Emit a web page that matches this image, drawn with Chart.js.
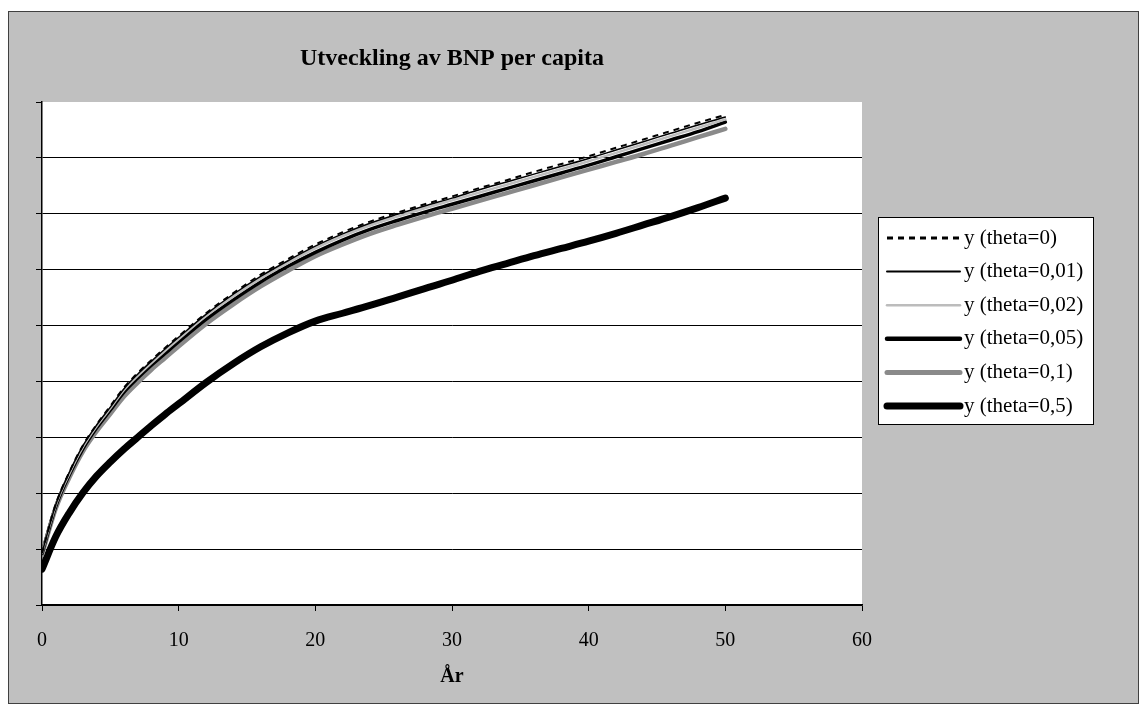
<!DOCTYPE html>
<html lang="sv">
<head>
    <meta charset="UTF-8">
    <title>Utveckling av BNP per capita</title>
    <script src="https://cdn.jsdelivr.net/npm/chart.js@4.4.1/dist/chart.umd.min.js"></script>
    <style>
        body { margin: 0; background: #fff; }
    </style>
</head>
<body>
    <canvas id="bnpChart" width="1147" height="709"></canvas>

    <script>
        // Data (y axis has no labels, 9 gridline units)
        const years = [0, 1, 2, 3, 4, 5, 6, 7, 8, 9, 10, 12, 14, 16, 18, 20, 22, 24, 26, 28, 30, 32, 34, 36, 38, 40, 42, 44, 46, 48, 50];
        const seriesLabels = ['y (theta=0)', 'y (theta=0,01)', 'y (theta=0,02)', 'y (theta=0,05)', 'y (theta=0,1)', 'y (theta=0,5)'];
        const yTheta0   = [0.93, 1.80, 2.38, 2.86, 3.23, 3.56, 3.89, 4.15, 4.38, 4.60, 4.81, 5.22, 5.58, 5.91, 6.19, 6.45, 6.67, 6.86, 7.02, 7.17, 7.31, 7.46, 7.60, 7.75, 7.89, 8.03, 8.18, 8.33, 8.48, 8.63, 8.77];
        const yTheta001 = [0.93, 1.79, 2.37, 2.85, 3.22, 3.54, 3.87, 4.13, 4.36, 4.58, 4.79, 5.20, 5.56, 5.88, 6.16, 6.42, 6.64, 6.83, 6.99, 7.14, 7.28, 7.43, 7.57, 7.71, 7.85, 7.99, 8.14, 8.29, 8.44, 8.59, 8.73];
        const yTheta002 = [0.93, 1.78, 2.35, 2.83, 3.20, 3.52, 3.85, 4.10, 4.33, 4.55, 4.76, 5.17, 5.52, 5.84, 6.12, 6.38, 6.60, 6.79, 6.95, 7.10, 7.24, 7.38, 7.52, 7.66, 7.80, 7.94, 8.09, 8.24, 8.39, 8.54, 8.69];
        const yTheta005 = [0.92, 1.76, 2.33, 2.80, 3.17, 3.49, 3.81, 4.06, 4.29, 4.50, 4.71, 5.11, 5.46, 5.78, 6.06, 6.31, 6.53, 6.72, 6.88, 7.03, 7.17, 7.31, 7.45, 7.59, 7.73, 7.87, 8.02, 8.17, 8.32, 8.47, 8.64];
        const yTheta01  = [0.90, 1.72, 2.28, 2.75, 3.11, 3.42, 3.73, 3.98, 4.21, 4.42, 4.63, 5.03, 5.38, 5.70, 5.98, 6.24, 6.45, 6.64, 6.80, 6.95, 7.09, 7.23, 7.37, 7.51, 7.65, 7.79, 7.93, 8.07, 8.22, 8.37, 8.52];
        const yTheta05  = [0.64, 1.22, 1.65, 2.01, 2.31, 2.56, 2.79, 3.00, 3.21, 3.41, 3.60, 3.98, 4.32, 4.62, 4.87, 5.08, 5.22, 5.36, 5.51, 5.66, 5.81, 5.97, 6.11, 6.25, 6.38, 6.51, 6.65, 6.80, 6.95, 7.11, 7.28];
        const xTicks = [0, 10, 20, 30, 40, 50, 60];

        const serif = "'Liberation Serif', 'Times New Roman', serif";
        const GREY_BG = '#c0c0c0';

        function toPoints(values) {
            return values.map((v, i) => ({ x: years[i], y: v }));
        }

        // line styles per series: [color, width in plot, width in legend, dash]
        const styles = [
            ['#000000', 2,   3,   [6, 5]],
            ['#000000', 1.5, 2,   []],
            ['#bcbcbc', 2.5, 2.5, []],
            ['#000000', 3.5, 4.5, []],
            ['#8a8a8a', 4.5, 5,   []],
            ['#000000', 7,   7,   []]
        ];
        const allValues = [yTheta0, yTheta001, yTheta002, yTheta005, yTheta01, yTheta05];

        const datasets = allValues.map((vals, i) => ({
            label: seriesLabels[i],
            data: toPoints(vals),
            borderColor: styles[i][0],
            borderWidth: styles[i][1],
            borderDash: styles[i][3],
            legendWidth: styles[i][2],
            borderCapStyle: i === 0 ? 'butt' : 'round',
            pointRadius: 0,
            cubicInterpolationMode: 'monotone',
            fill: false
        }));

        // grey frame + white plot area
        const frame = {
            id: 'frame',
            beforeDraw(chart) {
                const { ctx, chartArea } = chart;
                ctx.save();
                ctx.fillStyle = '#ffffff';
                ctx.fillRect(0, 0, chart.width, chart.height);
                ctx.fillStyle = GREY_BG;
                ctx.fillRect(8, 11, 1130, 692);
                ctx.strokeStyle = '#404040';
                ctx.lineWidth = 1;
                ctx.strokeRect(8.5, 11.5, 1130, 692);
                ctx.fillStyle = '#ffffff';
                ctx.fillRect(chartArea.left, chartArea.top, chartArea.right - chartArea.left, chartArea.bottom - chartArea.top);
                ctx.restore();
            }
        };

        // legend box like the original, to the right of the plot
        const boxLegend = {
            id: 'boxLegend',
            afterDraw(chart) {
                const { ctx } = chart;
                const left = 878, top = 217, w = 215, h = 207;
                ctx.save();
                ctx.fillStyle = '#ffffff';
                ctx.fillRect(left, top, w, h);
                ctx.strokeStyle = '#000000';
                ctx.lineWidth = 1;
                ctx.strokeRect(left + 0.5, top + 0.5, w, h);
                ctx.font = '21px ' + serif;
                ctx.textBaseline = 'middle';
                ctx.fillStyle = '#000000';
                chart.data.datasets.forEach((ds, i) => {
                    const y = 238 + i * 33.6;
                    ctx.beginPath();
                    ctx.strokeStyle = ds.borderColor;
                    ctx.lineWidth = ds.legendWidth;
                    ctx.setLineDash(ds.borderDash);
                    ctx.lineCap = ds.borderCapStyle;
                    ctx.moveTo(887, y);
                    ctx.lineTo(960, y);
                    ctx.stroke();
                    ctx.setLineDash([]);
                    ctx.fillText(ds.label, 964, y);
                });
                ctx.restore();
            }
        };

        const ctx = document.getElementById('bnpChart').getContext('2d');
        const chart = new Chart(ctx, {
            type: 'line',
            data: { datasets: datasets },
            options: {
                responsive: false,
                animation: false,
                layout: { padding: { left: 36, right: 285, top: 40, bottom: 20 } },
                plugins: {
                    legend: { display: false },
                    tooltip: { enabled: false },
                    title: {
                        display: true,
                        text: 'Utveckling av BNP per capita',
                        fullSize: false,
                        color: '#000',
                        font: { family: serif, size: 24, weight: 'bold', lineHeight: 1.2 },
                        padding: { top: 4, bottom: 29.2 }
                    }
                },
                scales: {
                    x: {
                        type: 'linear',
                        min: 0,
                        max: 60,
                        afterFit: (scale) => { scale.height = 84; },
                        afterBuildTicks: (scale) => { scale.ticks = xTicks.map(v => ({ value: v })); },
                        grid: { drawOnChartArea: false, drawTicks: true, tickLength: 6, color: '#000' },
                        border: { display: true, color: '#000', width: 1.5 },
                        ticks: {
                            color: '#000',
                            padding: 18,
                            font: { family: serif, size: 20 },
                            maxRotation: 0
                        },
                        title: {
                            display: true,
                            text: 'År',
                            color: '#000',
                            font: { family: serif, size: 20, weight: 'bold' },
                            padding: { top: 0, bottom: 0 }
                        }
                    },
                    y: {
                        min: 0,
                        max: 9,
                        afterFit: (scale) => { scale.width = 6; },
                        ticks: { display: false, stepSize: 1 },
                        grid: {
                            color: (c) => (c.tick && c.tick.value === 9) ? 'rgba(0,0,0,0)' : '#000',
                            tickColor: '#000',
                            lineWidth: 1,
                            tickLength: 6
                        },
                        border: { display: true, color: '#000', width: 1.5 }
                    }
                }
            },
            plugins: [frame, boxLegend]
        });
    </script>
</body>
</html>
